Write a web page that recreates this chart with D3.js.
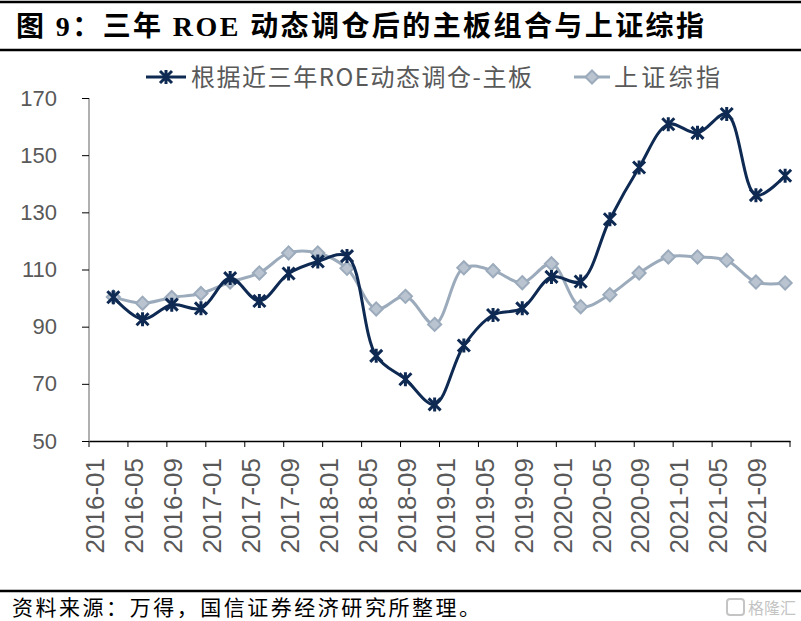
<!DOCTYPE html>
<html lang="zh">
<head>
<meta charset="utf-8">
<title>三年ROE动态调仓后的主板组合与上证综指</title>
<script src="https://cdn.jsdelivr.net/npm/d3@7/dist/d3.min.js"></script>
<style>
body { margin: 0; background: #fff; }
svg text { font-family: "Liberation Sans", Arial, "Noto Sans CJK SC", sans-serif; }
</style>
</head>
<body>
<script>
// monthly category axis, data points at quarter ends
var years = ["2016", "2017", "2018", "2019", "2020", "2021"];
var quarterMonths = ["03", "06", "09", "12"];
var tickMonths = ["01", "05", "09"];
var yTicks = [50, 70, 90, 110, 130, 150, 170];

var mainBoard = [100.3, 92.6, 97.7, 96.4, 107, 99, 108.6, 112.8, 114.7, 79.8, 71.6, 62.8,
                 83.4, 94.1, 96.4, 107.4, 105.8, 127.6, 145.7, 160.8, 157.8, 164.4, 136, 142.8];
var shIndex = [100.4, 98.2, 100.2, 101.6, 105.6, 108.8, 115.8, 115.8, 110.4, 96.2, 100.6, 90.8,
               110.6, 109.6, 105.4, 112, 97, 101.2, 108.8, 114.4, 114.4, 113.2, 105.6, 105.3];

var seriesNames = ["根据近三年ROE动态调仓-主板", "上证综指"];

var months = [];
years.forEach(function(y) {
  for (var m = 1; m <= 12; m++) months.push(y + "-" + (m < 10 ? "0" + m : m));
});
var quarters = [];
years.forEach(function(y) {
  quarterMonths.forEach(function(m) { quarters.push(y + "-" + m); });
});
var tickLabels = [];
years.forEach(function(y) {
  tickMonths.forEach(function(m) { tickLabels.push(y + "-" + m); });
});

var W = 801, H = 621;
var svg = d3.select("body").append("svg").attr("width", W).attr("height", H);

// title and rules
svg.append("line").attr("x1", 0).attr("x2", W).attr("y1", 2).attr("y2", 2)
  .attr("stroke", "#000").attr("stroke-width", 2.5);
svg.append("line").attr("x1", 0).attr("x2", W).attr("y1", 50).attr("y2", 50)
  .attr("stroke", "#000").attr("stroke-width", 2.5);
svg.append("text")
  .attr("x", 16).attr("y", 36)
  .attr("textLength", 688).attr("lengthAdjust", "spacing")
  .style("font-family", "'Liberation Serif', 'Noto Sans CJK SC', serif")
  .style("font-weight", "bold").style("font-size", "28px").attr("fill", "#000")
  .text("图 9：三年 ROE 动态调仓后的主板组合与上证综指");

svg.append("line").attr("x1", 0).attr("x2", W).attr("y1", 591).attr("y2", 591)
  .attr("stroke", "#000").attr("stroke-width", 2.5);
svg.append("text")
  .attr("x", 12).attr("y", 615)
  .attr("textLength", 468).attr("lengthAdjust", "spacing")
  .style("font-family", "'Noto Sans CJK SC', sans-serif")
  .style("font-size", "21px").attr("fill", "#000")
  .text("资料来源：万得，国信证券经济研究所整理。");

// watermark
svg.append("rect").attr("x", 727).attr("y", 599).attr("width", 17).attr("height", 16)
  .attr("rx", 3).attr("fill", "none").attr("stroke", "#c4c4c4").attr("stroke-width", 2);
svg.append("text").attr("x", 748).attr("y", 614)
  .style("font-family", "'Noto Sans CJK SC', sans-serif")
  .style("font-size", "16px").attr("fill", "#c4c4c4").text("格隆汇");

// plot area
var plotLeft = 89, plotRight = 790, plotTop = 98, plotBottom = 441;

var x = d3.scaleBand().domain(months).range([plotLeft, plotRight]);
var y = d3.scaleLinear().domain([50, 170]).range([plotBottom, plotTop]);

var xAxis = d3.axisBottom(x)
  .tickValues(tickLabels)
  .tickSize(0)
  .tickPadding(0);

// tick marks on category boundaries every 4 months
var boundaries = d3.range(0, months.length + 1, 4);
svg.append("g").selectAll("line").data(boundaries).enter().append("line")
  .attr("x1", function(i) { return plotLeft + i * x.step(); })
  .attr("x2", function(i) { return plotLeft + i * x.step(); })
  .attr("y1", plotBottom).attr("y2", plotBottom + 6)
  .attr("stroke", "#000").attr("stroke-width", 1);

var gx = svg.append("g").attr("transform", "translate(0," + plotBottom + ")").call(xAxis);
gx.select(".domain").attr("stroke", "#000").attr("stroke-width", 1.3);
gx.selectAll("text")
  .attr("transform", "rotate(-90)")
  .attr("x", -17).attr("y", 1).attr("dy", "0.36em")
  .style("text-anchor", "end")
  .style("font-size", "26px")
  .attr("fill", "#595959");

var yAxis = d3.axisLeft(y).tickValues(yTicks).tickSize(7).tickPadding(25);
var gy = svg.append("g").attr("transform", "translate(" + plotLeft + ",0)").call(yAxis);
gy.select(".domain").attr("stroke", "#868686").attr("stroke-width", 1.3)
  .attr("d", "M0," + plotTop + "V" + plotBottom);
gy.selectAll(".tick line").attr("stroke", "#000");
gy.selectAll(".tick text").style("font-size", "22px").attr("fill", "#595959");

var dark = "#0e2a53", grey = "#9cabbc";

function px(d, i) { return x(quarters[i]) + x.bandwidth() / 2; }

var line = d3.line()
  .x(function(d, i) { return px(d, i); })
  .y(function(d) { return y(d); })
  .curve(d3.curveCatmullRom.alpha(0.5));

var starPath = "M-6,-6L6,6M-6,6L6,-6M0,-7L0,7";
var diamond = d3.symbol().type(d3.symbolDiamond2).size(110);

// grey series first, dark on top
svg.append("path").datum(shIndex).attr("d", line)
  .attr("fill", "none").attr("stroke", grey).attr("stroke-width", 3);
svg.append("g").selectAll("path").data(shIndex).enter().append("path")
  .attr("transform", function(d, i) { return "translate(" + px(d, i) + "," + y(d) + ")"; })
  .attr("d", diamond)
  .attr("fill", "#b9c4d0").attr("stroke", grey).attr("stroke-width", 2);

svg.append("path").datum(mainBoard).attr("d", line)
  .attr("fill", "none").attr("stroke", dark).attr("stroke-width", 3);
svg.append("g").selectAll("path").data(mainBoard).enter().append("path")
  .attr("transform", function(d, i) { return "translate(" + px(d, i) + "," + y(d) + ")"; })
  .attr("d", starPath)
  .attr("fill", "none").attr("stroke", dark).attr("stroke-width", 3);

// legend
var lg = svg.append("g").attr("transform", "translate(0,77)");
lg.append("line").attr("x1", 146).attr("x2", 186).attr("stroke", dark).attr("stroke-width", 3);
lg.append("path").attr("transform", "translate(166,0)").attr("d", starPath)
  .attr("stroke", dark).attr("stroke-width", 3).attr("fill", "none");
lg.append("text").attr("x", 191).attr("y", 0).attr("dy", "0.36em")
  .attr("textLength", 341).attr("lengthAdjust", "spacing")
  .style("font-family", "'Noto Sans CJK SC', sans-serif")
  .style("font-size", "24px").attr("fill", "#595959").text(seriesNames[0]);

lg.append("line").attr("x1", 574).attr("x2", 610).attr("stroke", grey).attr("stroke-width", 3);
lg.append("path").attr("transform", "translate(592,0)").attr("d", diamond)
  .attr("fill", "#b9c4d0").attr("stroke", grey).attr("stroke-width", 2);
lg.append("text").attr("x", 614).attr("y", 0).attr("dy", "0.36em")
  .attr("textLength", 106).attr("lengthAdjust", "spacing")
  .style("font-family", "'Noto Sans CJK SC', sans-serif")
  .style("font-size", "24px").attr("fill", "#595959").text(seriesNames[1]);
</script>
</body>
</html>
